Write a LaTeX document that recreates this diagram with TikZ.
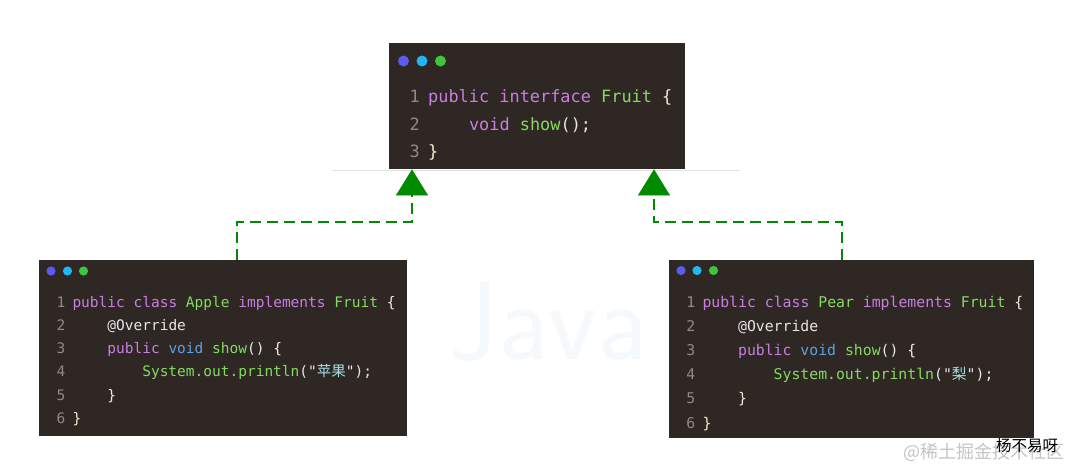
\documentclass[tikz,border=0pt]{standalone}
\usepackage{fontspec}
\setmonofont{DejaVu Sans Mono}
\newfontfamily\cjk{Noto Sans CJK SC}
\usetikzlibrary{arrows.meta}
\definecolor{bg}{HTML}{2E2724}
\definecolor{kw}{HTML}{C77FE0}
\definecolor{gr}{HTML}{86DA62}
\definecolor{bl}{HTML}{5EA0E2}
\definecolor{tx}{HTML}{F3EDD4}
\definecolor{wt}{HTML}{E6E6E6}
\definecolor{lnc}{HTML}{8F8A84}
\definecolor{stc}{HTML}{A8E0E6}
\definecolor{dotA}{HTML}{5B5BF0}
\definecolor{dotB}{HTML}{22B5F2}
\definecolor{dotC}{HTML}{3EC43E}
\definecolor{arrowgreen}{HTML}{008A00}
\definecolor{javac}{HTML}{F6F9FC}
\definecolor{wmgray}{HTML}{C4C4C4}
\definecolor{rulegray}{HTML}{E2E2E2}
\newcommand{\kwd}[1]{\textcolor{kw}{#1}}
\newcommand{\grn}[1]{\textcolor{gr}{#1}}
\newcommand{\blu}[1]{\textcolor{bl}{#1}}
\newcommand{\wht}[1]{\textcolor{wt}{#1}}
\newcommand{\stx}[1]{\textcolor{stc}{#1}}
\begin{document}
\begin{tikzpicture}[x=1pt,y=-1pt,
  box/.style={fill=bg, draw=none, inner sep=0pt, anchor=north west},
  codeT/.style={inner sep=0pt, anchor=base west, text=tx, font=\fontsize{16.9}{20}\selectfont\ttfamily},
  codeA/.style={inner sep=0pt, anchor=base west, text=tx, font=\fontsize{14.5}{18}\selectfont\ttfamily},
  codeP/.style={inner sep=0pt, anchor=base west, text=tx, font=\fontsize{14.8}{18}\selectfont\ttfamily},
  lnT/.style={inner sep=0pt, anchor=base east, text=lnc, font=\fontsize{16.9}{20}\selectfont\ttfamily},
  lnA/.style={inner sep=0pt, anchor=base east, text=lnc, font=\fontsize{14.5}{18}\selectfont\ttfamily},
  lnP/.style={inner sep=0pt, anchor=base east, text=lnc, font=\fontsize{14.8}{18}\selectfont\ttfamily},
  impl/.style={draw=arrowgreen, line width=2.9pt, dash pattern=on 11pt off 6pt,
    -{Triangle[width=32pt,length=26pt,line width=0.1pt]}},
]
\useasboundingbox (0,0) rectangle (1071,469);
\fill[white] (0,0) rectangle (1071,469);

% faint background logo
\node[text=javac, inner sep=0pt, font=\fontsize{112}{112}\selectfont\sffamily] (java) at (548,322) {Java};

% thin rule under top box
\draw[rulegray, line width=0.8pt] (332,170) -- (740,170);

% boxes
\node[box, minimum width=296pt, minimum height=126pt] (top) at (389,43) {};
\node[box, minimum width=368pt, minimum height=176pt] (apple) at (39,260) {};
\node[box, minimum width=365pt, minimum height=178pt] (pear) at (669,260) {};

% window dots
\fill[dotA] (403.5,61) circle (5.5pt);
\fill[dotB] (422,61) circle (5.5pt);
\fill[dotC] (440.5,61) circle (5.5pt);
\fill[dotA] (51,271) circle (4.6pt);
\fill[dotB] (67.5,271) circle (4.6pt);
\fill[dotC] (83.5,271) circle (4.6pt);
\fill[dotA] (681,270.5) circle (4.6pt);
\fill[dotB] (697,270.5) circle (4.6pt);
\fill[dotC] (713.5,270.5) circle (4.6pt);

% top code
\node[lnT] (tn1) at (420,102) {1};
\node[lnT] (tn2) at (420,130) {2};
\node[lnT] (tn3) at (420,157.5) {3};
\node[codeT] (t1) at (428,102) {\kwd{public interface} \grn{Fruit} \{};
\node[codeT] (t2) at (468.8,130) {\kwd{void} \grn{show}\wht{();}};
\node[codeT] (t3) at (428,157.5) {\}};

% apple code
\node[lnA] (an1) at (65.5,307) {1};
\node[lnA] (an2) at (65.5,330.3) {2};
\node[lnA] (an3) at (65.5,353.6) {3};
\node[lnA] (an4) at (65.5,376.9) {4};
\node[lnA] (an5) at (65.5,400.2) {5};
\node[lnA] (an6) at (65.5,423.5) {6};
\node[codeA] (a1) at (72.3,307) {\kwd{public class} \grn{Apple} \kwd{implements} \grn{Fruit} \{};
\node[codeA] (a2) at (107.2,330.3) {\wht{@Override}};
\node[codeA] (a3) at (107.2,353.6) {\kwd{public} \blu{void} \grn{show}\wht{()} \{};
\node[codeA] (a4) at (142.1,376.9) {\grn{System.out.println}\wht{("}\stx{\cjk 苹果}\wht{");}};
\node[codeA] (a5) at (107.2,400.2) {\}};
\node[codeA] (a6) at (72.3,423.5) {\}};

% pear code
\node[lnP] (pn1) at (695.5,307.5) {1};
\node[lnP] (pn2) at (695.5,331.6) {2};
\node[lnP] (pn3) at (695.5,355.7) {3};
\node[lnP] (pn4) at (695.5,379.8) {4};
\node[lnP] (pn5) at (695.5,403.9) {5};
\node[lnP] (pn6) at (695.5,428) {6};
\node[codeP] (p1) at (702.3,307.5) {\kwd{public class} \grn{Pear} \kwd{implements} \grn{Fruit} \{};
\node[codeP] (p2) at (737.9,331.6) {\wht{@Override}};
\node[codeP] (p3) at (737.9,355.7) {\kwd{public} \blu{void} \grn{show}\wht{()} \{};
\node[codeP] (p4) at (773.5,379.8) {\grn{System.out.println}\wht{("}\stx{\cjk 梨}\wht{");}};
\node[codeP] (p5) at (737.9,403.9) {\}};
\node[codeP] (p6) at (702.3,428) {\}};

% realization connectors
\coordinate (bendL) at (237,222);
\coordinate (bendR) at (842,222);
\coordinate (tipL) at (412,0);
\coordinate (tipR) at (654,0);
\draw[impl] (bendL |- apple.north) -- (bendL) -| (tipL |- top.south);
\draw[impl] (bendR |- pear.north) -- (bendR) -| (tipR |- top.south);

% watermark
\node[anchor=base west, inner sep=0pt, text=wmgray, font=\cjk\fontsize{18}{18}\selectfont] (wm) at (903,458) {@稀土掘金技术社区};
\node[anchor=base west, inner sep=0pt, text=black, font=\cjk\fontsize{15.5}{16}\selectfont] (author) at (996,451) {杨不易呀};
\end{tikzpicture}
\end{document}
